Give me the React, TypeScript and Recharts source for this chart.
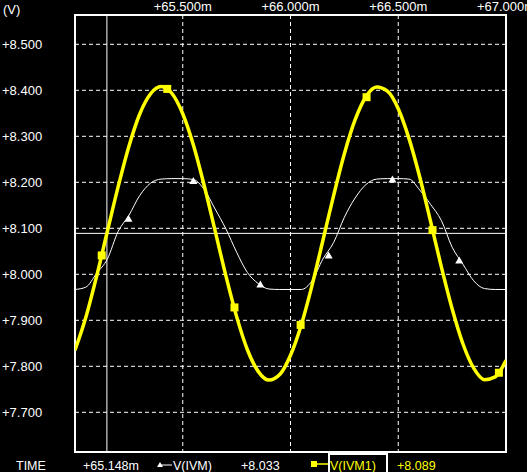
import {
  CartesianGrid,
  ComposedChart,
  Line,
  ReferenceArea,
  ReferenceLine,
  Scatter,
  XAxis,
  YAxis,
} from "recharts";

// time axis in ms
const time = [
  65.0, 65.05, 65.1, 65.15, 65.2, 65.25, 65.3, 65.35, 65.4, 65.45, 65.5, 65.55, 65.6, 65.65,
  65.7, 65.75, 65.8, 65.85, 65.9, 65.95, 66.0, 66.05, 66.1, 66.15, 66.2, 66.25, 66.3, 66.35,
  66.4, 66.45, 66.5, 66.55, 66.6, 66.65, 66.7, 66.75, 66.8, 66.85, 66.9, 66.95, 67.0,
];

// V(IVM1) – yellow
const vIvm1 = [
  7.835, 7.906, 7.995, 8.093, 8.19, 8.278, 8.348, 8.392, 8.408, 8.393, 8.349, 8.28, 8.192, 8.095,
  7.997, 7.908, 7.836, 7.789, 7.77, 7.782, 7.824, 7.89, 7.976, 8.073, 8.171, 8.262, 8.336, 8.386,
  8.407, 8.398, 8.36, 8.295, 8.211, 8.115, 8.016, 7.925, 7.849, 7.796, 7.771, 7.777, 7.813,
];

// V(IVM) – white
const vIvm = [
  7.967, 7.972, 8.002, 8.033, 8.093, 8.128, 8.171, 8.198, 8.207, 8.208, 8.208, 8.206, 8.184, 8.142,
  8.099, 8.048, 8.004, 7.98, 7.968, 7.967, 7.967, 7.967, 7.986, 8.033, 8.069, 8.124, 8.166, 8.195,
  8.207, 8.208, 8.208, 8.207, 8.183, 8.152, 8.117, 8.059, 8.022, 7.986, 7.969, 7.967, 7.967,
];

const ivm1MarkT = [65.124, 65.428, 65.74, 66.047, 66.353, 66.659, 66.967];
const ivm1MarkV = [8.041, 8.403, 7.928, 7.89, 8.385, 8.096, 7.786];
const ivmMarkT = [65.248, 65.549, 65.86, 66.177, 66.473, 66.783];
const ivmMarkV = [8.121, 8.203, 7.978, 8.041, 8.206, 8.03];

const xTicks = [65.5, 66.0, 66.5, 67.0];
const yTicks = [7.7, 7.8, 7.9, 8.0, 8.1, 8.2, 8.3, 8.4, 8.5];

const cursorT = 65.148;
const cursorV = 8.089;
const readout = { time: "+65.148m", ivm: "+8.033", ivm1: "+8.089" };

const data = time.map((t, i) => ({ t, ivm1: vIvm1[i], ivm: vIvm[i] }));
const ivm1Marks = ivm1MarkT.map((t, i) => ({ t, v: ivm1MarkV[i] }));
const ivmMarks = ivmMarkT.map((t, i) => ({ t, v: ivmMarkV[i] }));

const font = "'Liberation Sans', Arial, sans-serif";
const YELLOW = "#ffff00";
const Y_MIN = 7.6137;
const Y_MAX = 8.5637;

const XTick = (p: any) => (
  <text x={p.x} y={11} textAnchor="middle" fill="#fff" fontSize={13} fontFamily={font}>
    {"+" + p.payload.value.toFixed(3) + "m"}
  </text>
);

const YTick = (p: any) => (
  <text x={2} y={p.y} dominantBaseline="central" fill="#fff" fontSize={13} fontFamily={font}>
    {"+" + p.payload.value.toFixed(3)}
  </text>
);

const Square = (p: any) => <rect x={p.cx - 4} y={p.cy - 4} width={8} height={8} fill={YELLOW} />;

const Triangle = (p: any) => (
  <path d={`M${p.cx},${p.cy - 4} L${p.cx + 4},${p.cy + 3} L${p.cx - 4},${p.cy + 3} Z`} fill="#fff" />
);

export default function App() {
  return (
    <div style={{ position: "relative", width: 527, height: 472, background: "#000", overflow: "hidden" }}>
      <style>{`body{margin:0;background:#000}`}</style>
      <ComposedChart width={527} height={472} data={data} margin={{ top: 0, right: 21, bottom: 20, left: 0 }}>
        <XAxis
          dataKey="t"
          type="number"
          domain={[65, 67]}
          ticks={xTicks}
          interval={0}
          orientation="top"
          height={15}
          axisLine={false}
          tickLine={false}
          tick={<XTick />}
          allowDataOverflow
        />
        <YAxis
          type="number"
          domain={[Y_MIN, Y_MAX]}
          ticks={yTicks}
          interval={0}
          width={75}
          axisLine={false}
          tickLine={false}
          tick={<YTick />}
          allowDataOverflow
        />
        <CartesianGrid stroke="#fff" strokeDasharray="4 3" strokeWidth={1} />
        <ReferenceArea x1={65} x2={67} y1={Y_MIN} y2={Y_MAX} fill="none" stroke="#fff" strokeWidth={2} fillOpacity={0} />
        <ReferenceLine x={cursorT} stroke="#fff" strokeWidth={1} />
        <ReferenceLine y={cursorV} stroke="#fff" strokeWidth={1} />
        <Line dataKey="ivm" type="monotone" stroke="#fff" strokeWidth={1} dot={false} activeDot={false} isAnimationActive={false} />
        <Line dataKey="ivm1" type="monotone" stroke={YELLOW} strokeWidth={3.5} dot={false} activeDot={false} isAnimationActive={false} />
        <Scatter data={ivmMarks} dataKey="v" shape={<Triangle />} isAnimationActive={false} />
        <Scatter data={ivm1Marks} dataKey="v" shape={<Square />} isAnimationActive={false} />
      </ComposedChart>
      <svg width={527} height={472} style={{ position: "absolute", left: 0, top: 0, pointerEvents: "none" }}>
        <g fontFamily={font} fontSize={12.5}>
          <text x={3} y={13.5} fill="#fff" fontSize={13}>(V)</text>
          <text x={16} y={469.5} fill="#fff">TIME</text>
          <text x={83} y={469.5} fill="#fff">{readout.time}</text>
          <path d="M157,467 L160,462 L163,467 Z" fill="#fff" />
          <line x1={160} y1={465} x2={172} y2={465} stroke="#fff" strokeWidth={1} />
          <text x={173} y={469.5} fill="#fff">V(IVM)</text>
          <text x={241} y={469.5} fill="#fff">{readout.ivm}</text>
          <rect x={311} y={461} width={6} height={6} fill={YELLOW} />
          <line x1={317} y1={464} x2={329} y2={464} stroke={YELLOW} strokeWidth={1.5} />
          <rect x={329} y={454} width={58} height={24} fill="none" stroke="#fff" strokeWidth={2} />
          <text x={330} y={469.5} fill={YELLOW}>V(IVM1)</text>
          <text x={397} y={469.5} fill={YELLOW}>{readout.ivm1}</text>
        </g>
      </svg>
    </div>
  );
}
